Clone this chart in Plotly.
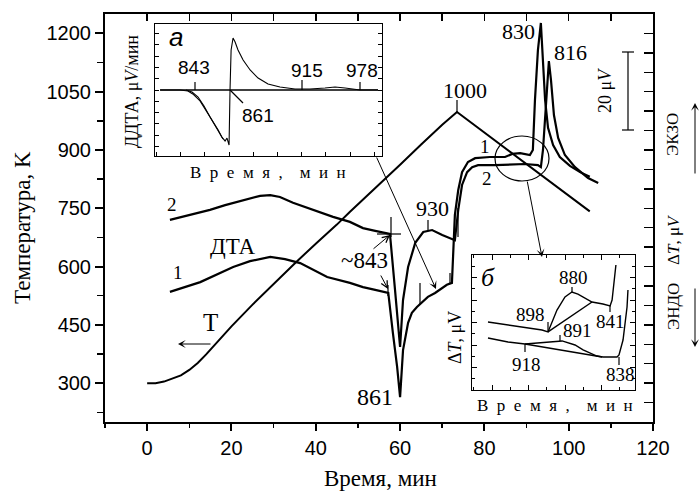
import plotly.graph_objects as go

# ---------------- data ----------------
# Temperature programme (left axis, K)
t_time = [0, 2, 4, 6, 8, 10, 12, 14, 16, 18, 20, 25, 30, 35, 40, 45, 48, 55, 60, 65, 70, 73.5,
          80, 85, 90, 95, 100, 105]
t_temp = [300, 300, 304, 311, 320, 334, 352, 374, 398, 422, 446, 502, 556, 608, 659, 708, 740, 810, 862, 914, 965, 998,
          945, 904, 864, 823, 783, 742]

# DTA curve 1 (right axis, uV)
dta1_time = [5.4, 12.6, 20.4, 24.4, 29.2, 32.7, 36.3, 42.7, 48.1, 51.2, 54.1, 57.2,
             58.3, 59.3, 60.0, 60.7, 61.9, 62.8, 64.0, 65.2, 66.6, 68.3, 70.0, 71.1,
             72.3, 72.6, 73.0, 73.8, 74.7, 76.1, 77.8, 81.3, 84.9, 86.6, 88.5, 90.8,
             91.5, 92.0, 92.7, 93.4, 93.9, 94.4, 95.1, 96.3, 97.9, 100.3, 102.7, 105.0]
dta1_uv = [33.5, 36.0, 39.9, 41.4, 42.5, 41.9, 40.9, 37.3, 35.8, 34.7, 34.0, 33.2,
           22.9, 14.2, 6.4, 18.5, 25.5, 28.1, 29.6, 30.9, 32.2, 33.2, 34.5, 35.3,
           35.8, 44.3, 53.3, 59.7, 64.3, 66.9, 67.9, 68.2, 68.2, 69.0, 69.2, 68.7,
           70.0, 82.9, 95.7, 102.7, 93.2, 82.9, 75.7, 71.3, 68.2, 65.9, 64.3, 63.1]

# DTA curve 2 (right axis, uV)
dta2_time = [5.4, 10.2, 14.9, 18.5, 23.2, 26.8, 29.2, 31.5, 34.6, 38.7, 44.1, 48.1,
             51.2, 54.1, 57.6, 58.8, 59.5, 60.0, 60.7, 61.9, 63.6, 65.5, 67.6, 70.0,
             73.0, 73.5, 73.8, 74.7, 75.9, 77.1, 78.5, 82.5, 89.6, 92.7, 93.4, 93.9,
             94.6, 95.3, 95.8, 96.5, 97.5, 99.1, 101.5, 104.6, 107.0]
dta2_uv = [52.0, 53.3, 54.6, 55.8, 57.1, 58.2, 58.4, 57.9, 56.4, 54.8, 52.8, 51.5,
           49.9, 49.2, 48.4, 34.0, 25.0, 19.3, 31.4, 39.9, 46.1, 48.9, 49.4, 48.1,
           46.8, 52.0, 54.6, 61.0, 64.3, 65.6, 66.1, 66.1, 66.4, 66.1, 65.6, 70.0,
           80.3, 92.9, 88.0, 79.0, 73.1, 68.7, 65.6, 62.8, 61.5]

# Inset a: DDTA (derivative), arbitrary units
ddta_time = [54.3, 55.95, 56.6, 57.0, 57.6, 58.2, 58.7, 59.1, 59.4, 59.67, 59.83, 60.0,
             60.08, 60.17, 60.33, 60.5, 60.74, 61.16, 61.74, 62.4, 63.22, 64.21, 65.45,
             66.69, 67.93, 68.76, 69.59, 70.83, 72.31]
ddta_val = [0, 0, -0.09, -0.35, -0.97, -1.95, -2.83, -3.54, -4.16, -4.51, -4.25, -4.87,
            0, 3.54, 4.6, 4.25, 3.54, 2.65, 1.77, 1.06, 0.53, 0.27, 0.09,
            0.09, 0.18, 0.27, 0.18, 0, 0]
ddta2_time = [56.45, 56.94, 57.44, 57.93, 58.43, 58.93, 59.26, 59.5]
ddta2_val = [0, -0.18, -0.62, -1.42, -2.39, -3.36, -3.89, -4.34]
ddta_base_time = [54.3, 72.31]
ddta_base_val = [0, 0]

# Inset b: magnified DTA, arbitrary units
b_up_time = [-0.22, 0.88, 1.97, 2.74, 3.07, 3.56, 4.0, 4.38, 4.71, 4.99, 5.48, 6.08, 6.47, 6.58, 6.68, 6.79]
b_up_val = [6.04, 5.78, 5.51, 5.33, 5.16, 7.11, 8.27, 8.71, 8.53, 8.27, 7.82, 7.64, 7.47, 8.0, 9.78, 11.11]
b_lo_time = [-0.22, 0.88, 1.81, 3.07, 3.84, 4.55, 4.99, 5.75, 6.08, 6.85, 6.96, 7.18, 7.4, 7.45]
b_lo_val = [4.62, 4.27, 4.09, 4.27, 4.36, 4.0, 3.56, 3.02, 2.93, 2.93, 3.11, 4.44, 7.38, 8.89]
b_up_chord_time = [3.07, 5.48]
b_up_chord_val = [5.16, 7.82]
b_lo_chord_time = [1.81, 6.03]
b_lo_chord_val = [4.09, 2.93]

# ---------------- layout helpers ----------------
W, H = 699, 492
L, R, T, B = 105, 46, 14, 70
PW, PH = W - L - R, H - T - B
SERIF = "Liberation Serif, Times New Roman, serif"
SANS = "Liberation Sans, Arial, sans-serif"


def PX(px):
    return (px - L) / PW


def PY(py):
    return (H - B - py) / PH


fig = go.Figure()
blk = "black"
fig.add_trace(go.Scatter(x=t_time, y=t_temp, mode="lines", line=dict(color=blk, width=2),
                         xaxis="x", yaxis="y", hoverinfo="skip"))
fig.add_trace(go.Scatter(x=t_time, y=t_temp, mode="lines", line=dict(color=blk, width=0),
                         opacity=0, xaxis="x2", yaxis="y", hoverinfo="skip"))
fig.add_trace(go.Scatter(x=dta1_time, y=dta1_uv, mode="lines", line=dict(color=blk, width=2.2),
                         xaxis="x", yaxis="y2", hoverinfo="skip"))
fig.add_trace(go.Scatter(x=dta2_time, y=dta2_uv, mode="lines", line=dict(color=blk, width=2.2),
                         xaxis="x", yaxis="y2", hoverinfo="skip"))
# inset a
fig.add_trace(go.Scatter(x=ddta_base_time, y=ddta_base_val, mode="lines", line=dict(color=blk, width=1.3),
                         xaxis="x3", yaxis="y3", hoverinfo="skip"))
fig.add_trace(go.Scatter(x=ddta_time, y=ddta_val, mode="lines", line=dict(color=blk, width=1.1),
                         xaxis="x3", yaxis="y3", hoverinfo="skip"))
fig.add_trace(go.Scatter(x=ddta2_time, y=ddta2_val, mode="lines", line=dict(color=blk, width=1.1),
                         xaxis="x3", yaxis="y3", hoverinfo="skip"))
# inset b
for xs, ys in [(b_up_time, b_up_val), (b_lo_time, b_lo_val),
               (b_up_chord_time, b_up_chord_val), (b_lo_chord_time, b_lo_chord_val)]:
    fig.add_trace(go.Scatter(x=xs, y=ys, mode="lines", line=dict(color=blk, width=1.4),
                             xaxis="x4", yaxis="y4", hoverinfo="skip"))

common = dict(showgrid=False, zeroline=False, color=blk, linecolor=blk, tickcolor=blk)

fig.update_layout(
    width=W, height=H, showlegend=False,
    paper_bgcolor="white", plot_bgcolor="white",
    margin=dict(l=L, r=R, t=T, b=B, autoexpand=False),
    xaxis=dict(range=[-10, 120], domain=[0, 1], anchor="y", showline=True, linewidth=2, mirror=True,
               ticks="outside", ticklen=7, tickwidth=2, tick0=0, dtick=20,
               minor=dict(ticks="outside", ticklen=4, tickwidth=1.5, dtick=10, tick0=0),
               tickfont=dict(family=SANS, size=20, color=blk), **common),
    xaxis2=dict(range=[-10, 120], overlaying="x", side="top", anchor="y", showline=False,
                ticks="inside", ticklen=7, tickwidth=1.5, tick0=0, dtick=10, showticklabels=False, **common),
    yaxis=dict(range=[200, 1250], domain=[0, 1], anchor="x", showline=True, linewidth=2, mirror=True,
               ticks="outside", ticklen=8, tickwidth=2, tick0=0, dtick=150,
               minor=dict(ticks="outside", ticklen=6, tickwidth=1.5, dtick=75, tick0=0),
               tickfont=dict(family=SANS, size=20, color=blk), **common),
    yaxis2=dict(range=[0, 105], overlaying="y", side="right", anchor="x", showline=True, linewidth=2,
                ticks="inside", ticklen=9, tickwidth=1.5, tick0=0, dtick=5, showticklabels=False, **common),
    xaxis3=dict(range=[53.88, 72.64], domain=[PX(155), PX(382)], anchor="y3", showline=True, linewidth=1.2,
                mirror=True, ticks="inside", ticklen=4, tickwidth=1, tick0=0, dtick=2,
                showticklabels=False, **common),
    yaxis3=dict(range=[-5.84, 5.84], domain=[PY(156), PY(24)], anchor="x3", showline=True, linewidth=1.2,
                mirror="ticks", ticks="inside", ticklen=4, tickwidth=1, tick0=0, dtick=1,
                showticklabels=False, **common),
    xaxis4=dict(range=[-1.096, 7.836], domain=[PX(472), PX(635)], anchor="y4", showline=True, linewidth=1.4,
                mirror="ticks", ticks="inside", ticklen=5, tickwidth=1, tick0=0, dtick=2,
                minor=dict(ticks="inside", ticklen=3, dtick=1, tick0=0),
                showticklabels=False, **common),
    yaxis4=dict(range=[0, 12], domain=[PY(390), PY(255)], anchor="x4", showline=True, linewidth=1.4,
                mirror="ticks", ticks="inside", ticklen=5, tickwidth=1, tick0=0, dtick=2,
                minor=dict(ticks="inside", ticklen=3, dtick=1, tick0=0),
                showticklabels=False, **common),
)

sp = "\u00a0\u00a0"
spaced = sp.join("Время,") + sp + sp + sp.join("мин")

labels = [
    ("Температура, K", 22, 228, 23, SERIF, -90),
    ("Время, мин", 380, 478, 23, SERIF, 0),
    ("ДТА", 233, 246, 23, SERIF, 0),
    ("2", 172, 204, 19, SERIF, 0),
    ("1", 178, 272, 19, SERIF, 0),
    ("T", 210, 322, 25, SERIF, 0),
    ("~843", 364, 260, 23, SERIF, 0),
    ("861", 375, 397, 24, SERIF, 0),
    ("930", 432, 208, 22, SERIF, 0),
    ("1000", 465, 90, 22, SERIF, 0),
    ("830", 518, 32, 22, SERIF, 0),
    ("816", 570, 52, 22, SERIF, 0),
    ("1", 485, 147, 19, SERIF, 0),
    ("2", 487, 178, 19, SERIF, 0),
    ("20 μ<i>V</i>", 605, 91, 18, SERIF, -90),
    ("ЭКЗО", 673, 135, 17, SERIF, -90),
    ("Δ<i>T</i>, μ<i>V</i>", 673, 240, 17, SERIF, -90),
    ("ЭНДО", 673, 307, 17, SERIF, -90),
    # inset a
    ("<i>a</i>", 176, 37, 26, SANS, 0),
    ("843", 194, 68, 19, SANS, 0),
    ("861", 258, 115, 19, SANS, 0),
    ("915", 307, 71, 19, SANS, 0),
    ("978", 362, 71, 19, SANS, 0),
    ("ДДТА, μ<i>V</i>/мин", 132, 92, 18, SERIF, -90),
    (spaced, 268, 173, 17, SERIF, 0),
    # inset b
    ("<i>б</i>", 488, 278, 26, SERIF, 0),
    ("880", 573, 278, 19, SERIF, 0),
    ("898", 530, 314, 19, SERIF, 0),
    ("891", 577, 330, 19, SERIF, 0),
    ("841", 610, 321, 19, SERIF, 0),
    ("918", 526, 364, 19, SERIF, 0),
    ("838", 620, 374, 19, SERIF, 0),
    ("Δ<i>T</i>, μV", 455, 338, 18, SERIF, -90),
    (spaced, 555, 405, 17, SERIF, 0),
]
anns = []
for text, px, py, size, fam, ang in labels:
    anns.append(dict(text=text, x=PX(px), y=PY(py), xref="paper", yref="paper", showarrow=False,
                     textangle=ang, font=dict(family=fam, size=size, color=blk),
                     xanchor="center", yanchor="middle"))

arrows = [
    (178, 344, 34, 0, 3, 1.0),
    (390, 235, -18, 15, 5, 1.0),
    (388, 289, -8, -15, 5, 1.0),
    (436, 289, -60, -133, 3, 1.0),
    (542, 257, -15, -77, 3, 1.0),
    (695, 103, 0, 72, 3, 1.0),
    (695, 347, 0, -60, 3, 1.0),
]
for hx, hy, dx, dy, head, w in arrows:
    anns.append(dict(text="", x=PX(hx), y=PY(hy), xref="paper", yref="paper", showarrow=True,
                     ax=dx, ay=dy, arrowhead=head, arrowsize=1.3, arrowwidth=w, arrowcolor=blk))
fig.update_layout(annotations=anns)

segs = [
    (457, 100, 457, 112), (428, 220, 428, 230), (377, 234, 401, 234), (391, 217, 391, 237),
    (388, 285, 388, 296), (420, 283, 420, 304), (450, 273, 450, 284), (458, 208, 458, 237),
    (195, 82, 195, 90), (302, 80, 302, 90), (360, 82, 360, 90), (230, 90, 243, 103),
    (572, 287, 572, 292), (548, 322, 548, 332), (560, 335, 560, 341), (610, 305, 610, 312),
    (525, 344, 525, 352), (619, 357, 619, 365),
    (628, 52, 628, 130), (622, 52, 634, 52), (622, 130, 634, 130),
]
shapes = []
for x0, y0, x1, y1 in segs:
    shapes.append(dict(type="line", xref="paper", yref="paper", x0=PX(x0), y0=PY(y0), x1=PX(x1), y1=PY(y1),
                       line=dict(color=blk, width=1.2)))
shapes.append(dict(type="circle", xref="paper", yref="paper", x0=PX(495), x1=PX(549), y0=PY(181), y1=PY(136),
                   line=dict(color=blk, width=1.2)))
fig.update_layout(shapes=shapes)

fig.write_html("out.html", config={"displayModeBar": False, "staticPlot": True},
               post_script="document.body.style.margin='0px';document.body.style.padding='0px';"
                           "document.documentElement.style.overflow='hidden';")
